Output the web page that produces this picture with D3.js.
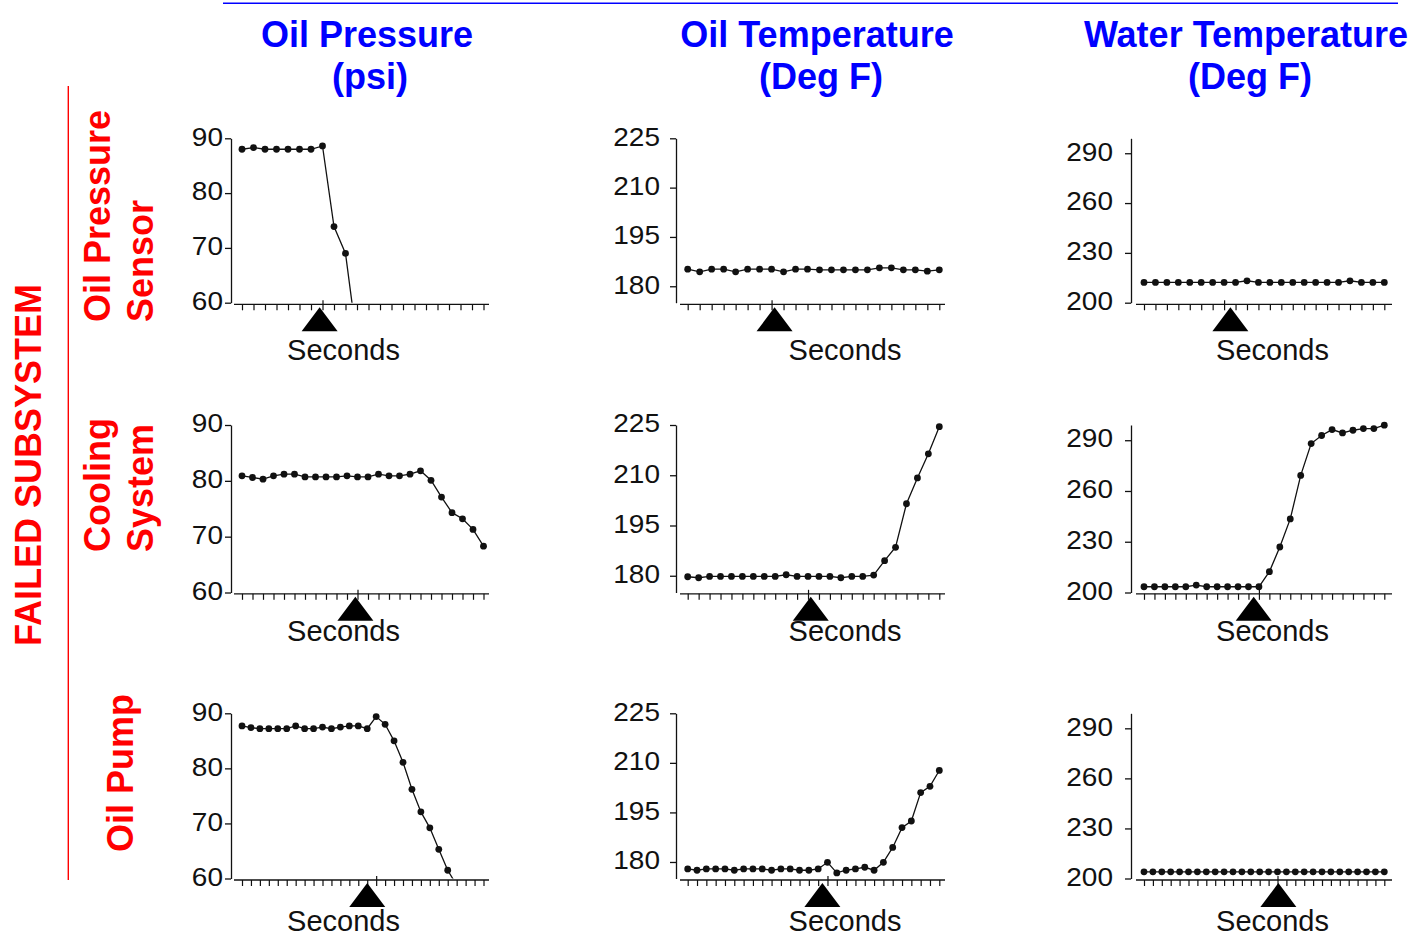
<!DOCTYPE html>
<html>
<head>
<meta charset="utf-8">
<script src="https://cdn.jsdelivr.net/npm/d3@7"></script>
<style>
  html, body { margin: 0; padding: 0; background: #fff; }
  svg { display: block; }
</style>
</head>
<body>
<script>
// ---- Labels ----
const measures = ["Oil Pressure", "Oil Temperature", "Water Temperature"];
const units = ["(psi)", "(Deg F)", "(Deg F)"];
const subsystems = [["Oil Pressure", "Sensor"], ["Cooling", "System"], ["Oil Pump"]];
const groupLabel = "FAILED SUBSYSTEM";
const xLabel = "Seconds";

// ---- Axes (one per measure column) ----
const yDomains = [[60, 90], [175, 225], [200, 299]];
const yTicks = [[60, 70, 80, 90], [180, 195, 210, 225], [200, 230, 260, 290]];

// number of sample ticks on the time axis, per failure row
const sampleCounts = [22, 24, 28];
// sample index that gets the long tick, per row
const majorTick = [7, 11, 15];
// failure onset (in samples), per row and measure
const eventAt = [
  [6.75, 7.25, 7.55],
  [10.8, 11.25, 10.5],
  [14.0, 14.45, 15.1]
];

// ---- Series: Oil Pressure Sensor failure ----
const sensorOilPressure = [88.0, 88.3, 88.0, 88.0, 88.0, 88.0, 88.0, 88.6, 73.9, 69.0, 53.0];
const sensorOilTemp = [185.2, 184.4, 185.2, 185.2, 184.4, 185.2, 185.2, 185.2, 184.4, 185.2, 185.2,
  185.0, 185.0, 185.0, 185.0, 185.0, 185.6, 185.6, 185.0, 185.0, 184.6, 185.0];
const sensorWaterTemp = [212.2, 212.2, 212.2, 212.2, 212.2, 212.2, 212.2, 212.2, 212.2, 213.2, 212.2,
  212.2, 212.2, 212.2, 212.2, 212.2, 212.2, 212.2, 213.2, 212.2, 212.2, 212.2];

// ---- Series: Cooling System failure ----
const coolingOilPressure = [80.9, 80.6, 80.3, 80.9, 81.2, 81.2, 80.7, 80.7, 80.7, 80.7, 80.9, 80.7,
  80.7, 81.2, 80.9, 80.9, 81.2, 81.8, 80.1, 77.1, 74.3, 73.2, 71.3, 68.3];
const coolingOilTemp = [179.7, 179.4, 179.8, 179.8, 179.8, 179.8, 179.8, 179.8, 179.8, 180.3, 179.8, 179.8,
  179.8, 179.8, 179.4, 179.8, 179.8, 180.2, 184.5, 188.5, 201.5, 209.2, 216.4, 224.5];
const coolingWaterTemp = [203.4, 203.4, 203.4, 203.4, 203.4, 204.4, 203.4, 203.4, 203.4, 203.4, 203.4, 203.4,
  212.3, 226.9, 243.5, 269.2, 288.0, 292.8, 296.3, 294.3, 295.9, 296.9, 296.9, 298.9];

// ---- Series: Oil Pump failure ----
const pumpOilPressure = [87.7, 87.4, 87.2, 87.2, 87.2, 87.2, 87.7, 87.2, 87.2, 87.5, 87.2, 87.5, 87.7,
  87.7, 87.2, 89.4, 88.0, 85.0, 81.1, 76.2, 72.1, 69.2, 65.3, 61.5, 58.8];
const pumpOilTemp = [177.9, 177.5, 177.9, 177.9, 177.9, 177.5, 177.9, 177.9, 177.9, 177.5, 177.9, 177.9,
  177.5, 177.5, 177.9, 179.9, 176.7, 177.5, 177.9, 178.4, 177.5, 179.9, 184.4, 190.4, 192.4, 201.0, 202.9, 207.7];
const pumpWaterTemp = [204, 204, 204, 204, 204, 204, 204, 204, 204, 204, 204, 204, 204, 204,
  204, 204, 204, 204, 204, 204, 204, 204, 204, 204, 204, 204, 204, 204];

const seriesGrid = [
  [sensorOilPressure, sensorOilTemp, sensorWaterTemp],
  [coolingOilPressure, coolingOilTemp, coolingWaterTemp],
  [pumpOilPressure, pumpOilTemp, pumpWaterTemp]
];

// ---- Layout ----
const W = 1414, H = 935;
const FONT = "'Liberation Sans', Arial, Helvetica, sans-serif";
const BLUE = "#0000ff", RED = "#ff0000", INK = "#111";

const cols = [
  { axisX: 231,  x0: 242,   x1: 483.5,  lineX0: 234,  lineX1: 489,  labelGap: 2,  secondsX: 343.5,  titleX: 367,  unitX: 370 },
  { axisX: 676,  x0: 687.7, x1: 939.3,  lineX0: 680,  lineX1: 945,  labelGap: 10, secondsX: 845,    titleX: 817,  unitX: 821 },
  { axisX: 1131, x0: 1144,  x1: 1384.3, lineX0: 1136, lineX1: 1392, labelGap: 12, secondsX: 1272.5, titleX: 1246, unitX: 1250 }
];
const rows = [
  { top: 138.3, bottom: 302.7, axisY: 304.3, secondsY: 360 },
  { top: 425,   bottom: 592.5, axisY: 593.8, secondsY: 641 },
  { top: 713.3, bottom: 878.5, axisY: 880,   secondsY: 931 }
];
const rowLabelPos = [
  { xs: [110, 153], y: 322 },
  { xs: [110, 153], y: 552 },
  { xs: [133],      y: 852 }
];

const tickFont = 25, tickStretch = 1.12, secondsFont = 29;

const svg = d3.select("body").append("svg")
  .attr("width", W).attr("height", H)
  .attr("font-family", FONT);

// header rule and measure titles
svg.append("line")
  .attr("x1", 223).attr("x2", 1398).attr("y1", 3.3).attr("y2", 3.3)
  .attr("stroke", BLUE).attr("stroke-width", 1.6);

measures.forEach((m, c) => {
  svg.append("text")
    .attr("x", cols[c].titleX).attr("y", 46.5)
    .attr("text-anchor", "middle")
    .attr("font-size", 36).attr("font-weight", "bold").attr("fill", BLUE)
    .text(m);
  svg.append("text")
    .attr("x", cols[c].unitX).attr("y", 89)
    .attr("text-anchor", "middle")
    .attr("font-size", 36).attr("font-weight", "bold").attr("fill", BLUE)
    .text(units[c]);
});

// left-hand group label and row labels
svg.append("line")
  .attr("x1", 68.3).attr("x2", 68.3).attr("y1", 86).attr("y2", 880)
  .attr("stroke", RED).attr("stroke-width", 1.4);

svg.append("text")
  .attr("transform", "translate(41,465) rotate(-90)")
  .attr("text-anchor", "middle")
  .attr("font-size", 36).attr("font-weight", "bold").attr("fill", RED)
  .text(groupLabel);

subsystems.forEach((lines, r) => {
  lines.forEach((t, i) => {
    svg.append("text")
      .attr("transform", `translate(${rowLabelPos[r].xs[i]},${rowLabelPos[r].y}) rotate(-90)`)
      .attr("text-anchor", "start")
      .attr("font-size", 36).attr("font-weight", "bold").attr("fill", RED)
      .text(t);
  });
});

// ---- Panels ----
const defs = svg.append("defs");

seriesGrid.forEach((rowSeries, r) => {
  const R = rows[r];
  const n = sampleCounts[r];
  rowSeries.forEach((values, c) => {
    const C = cols[c];
    const x = d3.scaleLinear().domain([0, n - 1]).range([C.x0, C.x1]);
    const y = d3.scaleLinear().domain(yDomains[c]).range([R.bottom, R.top]);
    const g = svg.append("g");

    // y axis
    const yAxis = g.append("g")
      .attr("transform", `translate(${C.axisX},0)`)
      .call(d3.axisLeft(y).tickValues(yTicks[c]).tickSize(6).tickSizeOuter(0).tickPadding(0));
    yAxis.select(".domain").attr("stroke", INK).attr("stroke-width", 1.3);
    yAxis.selectAll(".tick line").attr("stroke", INK).attr("stroke-width", 1.3);
    yAxis.selectAll(".tick text")
      .attr("font-family", FONT).attr("font-size", tickFont).attr("fill", INK)
      .attr("x", -(6 + C.labelGap) / tickStretch)
      .attr("dy", "0.27em")
      .attr("transform", `scale(${tickStretch},1)`);
    yAxis.attr("font-size", null).attr("font-family", null);

    // x axis: plain baseline with a tick per sample
    const xAxis = g.append("g")
      .attr("transform", `translate(0,${R.axisY})`)
      .call(d3.axisBottom(x).tickValues(d3.range(n)).tickSize(6).tickFormat(""));
    xAxis.select(".domain").remove();
    xAxis.selectAll(".tick line").attr("stroke", INK).attr("stroke-width", 1.2);
    xAxis.selectAll(".tick line").filter(d => d === majorTick[r]).attr("y1", -4);
    g.append("line")
      .attr("x1", C.lineX0).attr("x2", C.lineX1)
      .attr("y1", R.axisY).attr("y2", R.axisY)
      .attr("stroke", INK).attr("stroke-width", 1.3);

    // clip the trace to the plotting area
    const clipId = `clip-${r}-${c}`;
    defs.append("clipPath").attr("id", clipId)
      .append("rect")
      .attr("x", C.axisX + 1).attr("y", R.top - 12)
      .attr("width", C.lineX1 - C.axisX + 10).attr("height", R.bottom - R.top + 12);

    const plot = g.append("g").attr("clip-path", `url(#${clipId})`);
    plot.append("path")
      .datum(values)
      .attr("fill", "none").attr("stroke", INK).attr("stroke-width", 1.3)
      .attr("d", d3.line().x((d, i) => x(i)).y(d => y(d)));
    plot.selectAll("circle")
      .data(values)
      .join("circle")
      .attr("cx", (d, i) => x(i)).attr("cy", d => y(d))
      .attr("r", 3.4).attr("fill", INK);

    // failure onset marker
    const ex = x(eventAt[r][c]);
    g.append("path")
      .attr("d", `M${ex},${R.axisY + 3}L${ex + 18},${R.axisY + 27}L${ex - 18},${R.axisY + 27}Z`)
      .attr("fill", "#000");

    // time axis title
    g.append("text")
      .attr("x", C.secondsX).attr("y", R.secondsY)
      .attr("text-anchor", "middle")
      .attr("font-size", secondsFont).attr("fill", INK)
      .text(xLabel);
  });
});
</script>
</body>
</html>
